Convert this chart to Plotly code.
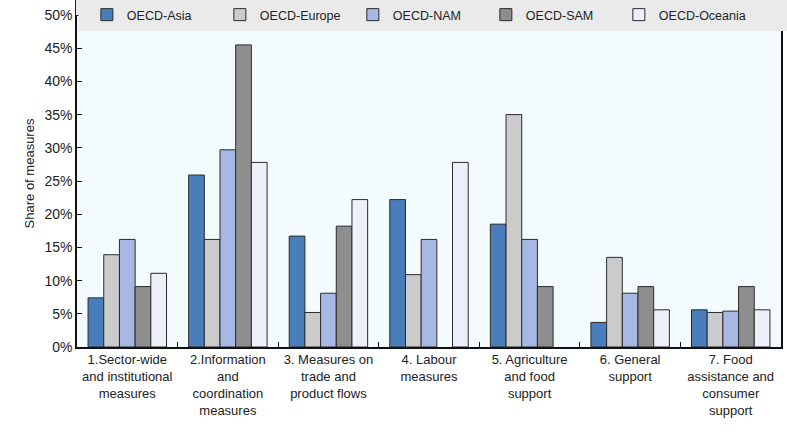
import plotly.graph_objects as go

categories = [
    "1.Sector-wide<br>and institutional<br>measures",
    "2.Information<br>and<br>coordination<br>measures",
    "3. Measures on<br>trade and<br>product flows",
    "4. Labour<br>measures",
    "5. Agriculture<br>and food<br>support",
    "6. General<br>support",
    "7. Food<br>assistance and<br>consumer<br>support",
]
series_names = ["OECD-Asia", "OECD-Europe", "OECD-NAM", "OECD-SAM", "OECD-Oceania"]
asia = [7.4, 25.9, 16.7, 22.2, 18.5, 3.7, 5.6]
europe = [13.9, 16.2, 5.2, 10.9, 35.0, 13.5, 5.2]
nam = [16.2, 29.7, 8.1, 16.2, 16.2, 8.1, 5.4]
sam = [9.1, 45.5, 18.2, None, 9.1, 9.1, 9.1]
oceania = [11.1, 27.8, 22.2, 27.8, None, 5.6, 5.6]
values = [asia, europe, nam, sam, oceania]
colors = ["#4A7EBB", "#CBCBCB", "#A6B8E3", "#8E8E8E", "#EEF0F9"]
y_ticks = [0, 5, 10, 15, 20, 25, 30, 35, 40, 45, 50]
y_ticklabels = [f"{t}%" for t in y_ticks]

FONT = "Liberation Sans, Arial, sans-serif"
BAND = "#EAEAEA"

fig = go.Figure()
for name, vals, col in zip(series_names, values, colors):
    fig.add_trace(go.Bar(
        x=categories, y=vals, name=name,
        marker=dict(color=col, line=dict(color="#2B2B2B", width=1)),
    ))

fig.update_layout(
    width=787, height=435,
    margin=dict(l=77, r=6, t=0, b=88),
    paper_bgcolor="white",
    plot_bgcolor="#F4FBFE",
    barmode="group",
    bargap=0.22,
    bargroupgap=0,
    font=dict(family=FONT, size=13, color="#222222"),
    showlegend=True,
    legend=dict(
        orientation="h", x=0.014, xanchor="left",
        y=0.9568, yanchor="middle",
        bgcolor="rgba(0,0,0,0)", font=dict(size=12.5),
        entrywidth=88, entrywidthmode="pixels",
        itemwidth=30, traceorder="normal",
    ),
    shapes=[
        dict(type="rect", xref="paper", yref="paper",
             x0=0.002, x1=1.01, y0=0.9107, y1=1.0,
             fillcolor=BAND, line=dict(width=0), layer="above"),
        dict(type="rect", xref="paper", yref="paper",
             x0=-0.0015, x1=0.003, y0=0.9568, y1=1.0,
             fillcolor=BAND, line=dict(width=0), layer="above"),
    ],
)
fig.update_xaxes(
    showline=True, linecolor="#111111", linewidth=1.5,
    ticks="inside", tickson="boundaries", ticklen=5, tickcolor="#111111",
    tickfont=dict(size=13), tickangle=0, showgrid=False, automargin=False,
)
fig.update_yaxes(
    range=[0, 52.26], tickvals=y_ticks, ticktext=y_ticklabels,
    showline=True, linecolor="#111111", linewidth=1.5, mirror=True,
    ticks="inside", ticklen=5, tickcolor="#111111",
    showgrid=False, zeroline=False, automargin=False,
    title=dict(text="Share of measures", font=dict(size=13), standoff=7),
    tickfont=dict(size=14),
)

fig.write_html(
    "out.html",
    config={"displayModeBar": False},
    post_script="document.body.style.margin='0';document.body.style.overflow='hidden';",
)
